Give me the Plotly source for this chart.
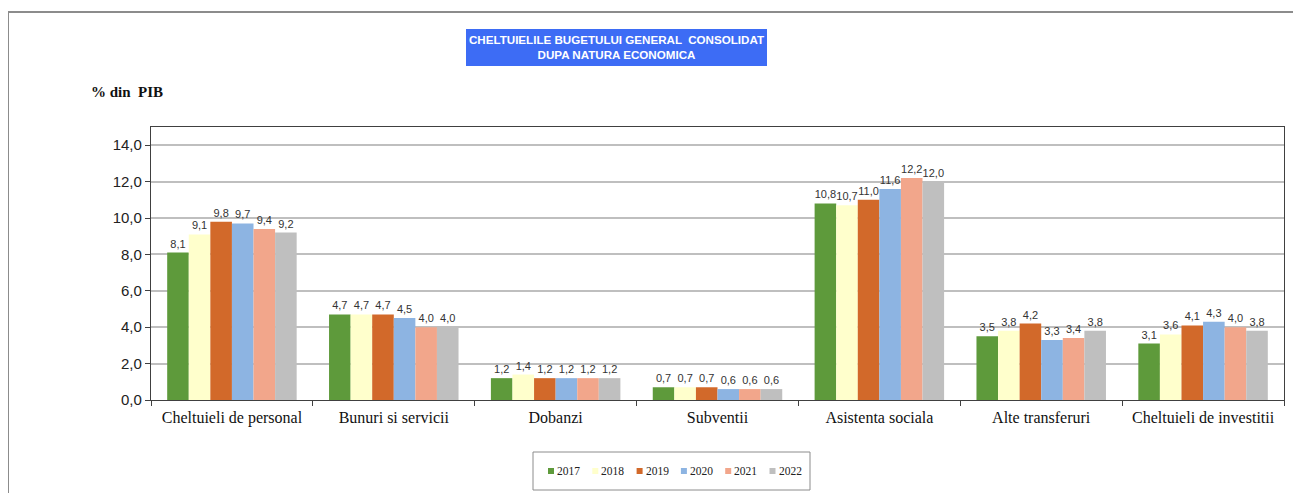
import plotly.graph_objects as go

categories = ["Cheltuieli de personal", "Bunuri si servicii", "Dobanzi", "Subventii",
              "Asistenta sociala", "Alte transferuri", "Cheltuieli de investitii"]
years = ["2017", "2018", "2019", "2020", "2021", "2022"]
v2017 = [8.1, 4.7, 1.2, 0.7, 10.8, 3.5, 3.1]
v2018 = [9.1, 4.7, 1.4, 0.7, 10.7, 3.8, 3.6]
v2019 = [9.8, 4.7, 1.2, 0.7, 11.0, 4.2, 4.1]
v2020 = [9.7, 4.5, 1.2, 0.6, 11.6, 3.3, 4.3]
v2021 = [9.4, 4.0, 1.2, 0.6, 12.2, 3.4, 4.0]
v2022 = [9.2, 4.0, 1.2, 0.6, 12.0, 3.8, 3.8]
series = [v2017, v2018, v2019, v2020, v2021, v2022]
colors = ["#5E9A3B", "#FFFFCC", "#D2692A", "#8DB4E2", "#F2A68B", "#BFBFBF"]
y_ticks = [0, 2, 4, 6, 8, 10, 12, 14]

OFF = 8  # default page body margin
W, H = 1301 - OFF, 493 - OFF
L, R, T, B = 151, 1284, 127, 400  # plot area in window pixels


def px(x):
    return (x - L) / (R - L)


def py(y):
    return (B - y) / (B - T)


fig = go.Figure()
for yr, vals, col in zip(years, series, colors):
    fig.add_trace(go.Bar(
        x=categories, y=vals, name=yr, marker=dict(color=col, line=dict(width=0)),
        text=[f"{v:.1f}".replace(".", ",") for v in vals],
        textposition="outside", cliponaxis=False,
        textfont=dict(family="Liberation Sans, Arial", size=11, color="#333333"),
        showlegend=False,
    ))

shapes = []
annotations = []
# outer border
shapes.append(dict(type="rect", xref="paper", yref="paper",
                   x0=px(8), x1=px(1310), y0=py(500), y1=py(12),
                   line=dict(color="#8C8C8C", width=2), fillcolor="rgba(0,0,0,0)", layer="below"))
# title box
shapes.append(dict(type="rect", xref="paper", yref="paper",
                   x0=px(466), x1=px(767), y0=py(66), y1=py(29),
                   line=dict(width=0), fillcolor="#3D6CF5", layer="below"))
annotations.append(dict(xref="paper", yref="paper", x=px(616.5), y=py(47.5),
                        text="<b>CHELTUIELILE BUGETULUI GENERAL  CONSOLIDAT<br>DUPA NATURA ECONOMICA</b>",
                        showarrow=False, xanchor="center", yanchor="middle",
                        font=dict(family="Liberation Sans Narrow, Arial Narrow, Liberation Sans", size=11.6, color="white")))
annotations.append(dict(xref="paper", yref="paper", x=px(89), y=py(92),
                        text="<b>% din  PIB</b>", showarrow=False, xanchor="left", yanchor="middle",
                        font=dict(family="Liberation Serif, Times New Roman", size=15, color="#111111")))
# custom legend
shapes.append(dict(type="rect", xref="paper", yref="paper",
                   x0=px(533), x1=px(810), y0=py(490), y1=py(452),
                   line=dict(color="#8C8C8C", width=1), fillcolor="white", layer="below"))
for i, (yr, col) in enumerate(zip(years, colors)):
    cx = 551 + 44.3 * i
    shapes.append(dict(type="rect", xref="paper", yref="paper",
                       x0=px(cx - 3), x1=px(cx + 3), y0=py(474), y1=py(468),
                       line=dict(width=0), fillcolor=col))
    annotations.append(dict(xref="paper", yref="paper", x=px(cx + 4), y=py(471),
                            text=yr, showarrow=False, xanchor="left", yanchor="middle",
                            font=dict(family="Liberation Serif, Times New Roman", size=11.5, color="#222222")))

fig.update_layout(
    width=W, height=H,
    margin=dict(l=L - OFF, r=W - (R - OFF), t=T - OFF, b=H - (B - OFF), autoexpand=False),
    paper_bgcolor="white", plot_bgcolor="white",
    barmode="group", bargap=0.2, bargroupgap=0,
    separators=",.",
    shapes=shapes, annotations=annotations,
    showlegend=False,
    xaxis=dict(
        showline=True, linecolor="#404040", linewidth=1.2, mirror=True,
        ticks="outside", tickson="boundaries", ticklen=5, tickcolor="#404040",
        tickfont=dict(family="Liberation Serif, Times New Roman", size=16, color="#111111"),
        ticklabelstandoff=3,
        showgrid=False,
    ),
    yaxis=dict(
        range=[0, 15], tickvals=y_ticks, tickformat=".1f",
        showline=True, linecolor="#404040", linewidth=1.2, mirror=True,
        ticks="outside", ticklen=5, tickcolor="#404040",
        tickfont=dict(family="Liberation Sans, Arial", size=15, color="#222222"),
        showgrid=True, gridcolor="#BFBFBF", gridwidth=1.5,
        zeroline=False,
    ),
)

fig.write_html("out.html")
